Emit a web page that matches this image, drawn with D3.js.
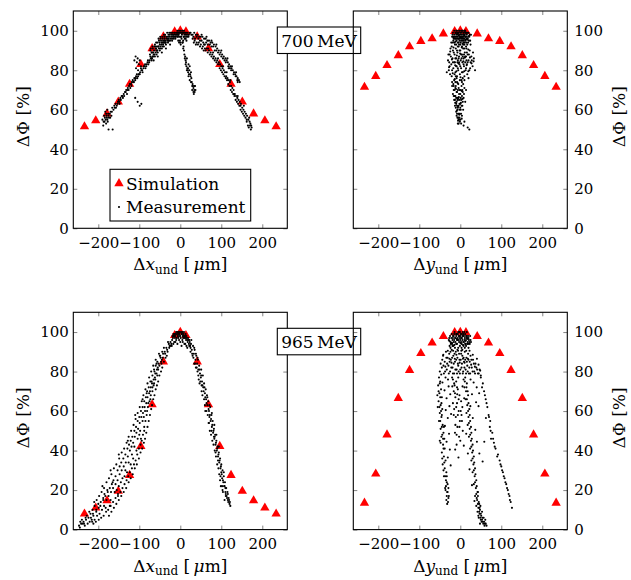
<!DOCTYPE html>
<html><head><meta charset="utf-8">
<script src="https://cdn.jsdelivr.net/npm/d3@7"></script>
<style>
body{margin:0;background:#fff}
svg text{font-family:"DejaVu Serif",serif;fill:#000}
</style>
</head><body>
<svg id="chart" width="631" height="580"></svg>
<script>
// ---------- data ----------
const xTicks = [-200,-100,0,100,200];
const yTicks = [0,20,40,60,80,100];
const energies = ["700 MeV","965 MeV"];

// simulation offsets [µm]
const simOffsets = [-233.75,-206.25,-178.75,-151.25,-123.75,-96.25,-68.75,-41.25,-13.75,0,13.75,41.25,68.75,96.25,123.75,151.25,178.75,206.25,233.75];
const sim700x = [51.5,54.5,58,64,73,83,91,97,99.5,100,99.5,97,91,83,73,64,58,54.5,51.5];
const sim700y = [71.5,77,82.5,87.5,92,94.7,96,98.5,99.7,100,99.7,98.5,96,94.7,92,87.5,82.5,77,71.5];
const sim965x = [8,11,14.7,19.5,27.5,42.2,63.3,85,98.3,100,98.3,85,63.3,42.2,27.5,19.5,14.7,11,8];
const sim965y = [13.5,28.2,48,66.5,80.7,89.2,94.5,97.8,99.8,100,99.8,97.8,94.5,89.2,80.7,66.5,48,28.2,13.5];

// measurement points [offset, ΔΦ]
const meas700x = [
[-190,55],[-188,52],[-186,57],[-185,54],[-183,59],[-182,55],[-181,53],[-180,57],[-179,56],[-178,60],[-177,54],[-176,58],[-175,50],[-174,56],[-172,58],[-170,59],[-168,57],[-166,61],[-165,50],[-163,60],[-160,61],[-158,63],[-155,62],[-152,64],[-150,65],[-148,63],[-146,66],[-143,67],[-140,66],[-138,68],[-135,69],[-132,70],[-130,68],[-128,71],[-125,72],[-122,71],[-120,73],[-118,74],[-115,74],[-112,76],[-110,75],[-108,77],[-105,76],[-102,78],[-100,78],[-98,79],[-95,80],[-92,79],[-90,81],[-87,82],[-85,81],[-82,83],[-80,84],[-78,83],[-75,85],[-72,86],[-70,85],[-68,87],[-65,88],[-62,87],[-60,89],[-58,90],[-55,89],[-52,91],[-50,90],[-48,92],[-45,91],[-42,93],[-40,92],[-38,94],[-35,93],[-32,95],[-30,94],[-28,96],[-25,95],[-22,97],[-20,96],[-18,97],[-15,98],[-12,97],[-10,98],[-8,99],[-5,98],[-3,97],
[-187,54],[-184,56],[-181,58],[-178,55],[-175,57],[-171,56],[-167,59],[-161,62],[-157,61],[-153,63],[-149,64],[-145,65],[-141,67],[-137,67],[-133,69],[-129,70],[-126,70],[-123,73],[-119,72],[-116,75],[-113,74],[-109,76],[-106,78],[-103,77],[-99,78],[-96,81],[-93,80],[-89,82],[-86,83],[-83,82],[-79,85],[-76,84],[-73,87],[-69,86],[-66,89],[-63,88],[-59,91],[-56,90],[-53,92],[-49,91],[-46,93],[-43,92],[-39,95],[-36,94],[-33,96],[-29,95],[-26,97],[-23,96],[-19,98],[-16,97],[-13,99],[-11,98],[-7,98],[-4,99],
[-74,88],[-72,91],[-70,89],[-68,92],[-66,87],[-64,90],[-62,93],[-60,91],[-58,88],[-56,94],[-54,92],[-52,95],[-50,93],[-48,96],[-46,94],[-44,97],[-42,95],[-40,98],[-38,96],[-36,94],[-34,97],[-32,99],[-30,97],[-28,95],[-26,98],[-24,99],[-22,98],[-20,95],[-18,99],[-16,96],[-14,99],[-12,96],[-65,85],[-55,87],[-45,89],[-35,91],[-25,93],[-61,92],[-47,95],[-70,86],
[-73,90],[-67,91],[-63,92],[-59,94],[-57,92],[-53,96],[-51,94],[-49,97],[-43,96],[-41,94],[-39,97],[-37,98],[-31,96],[-27,99],[-21,99],[-17,98],[-13,97],[-69,89],[-57,90],[-43,94],[-37,95],[-29,98],
[-112,85],[-109,87],[-106,84],[-104,86],[-101,83],[-99,85],[-96,82],[-108,81],[-103,80],
[-110,66],[-104,64],[-99,62],[-95,63],
[-8,97],[-6,99],[-4,98],[-2,99],[0,97],[2,99],[4,98],[6,99],[8,97],[10,98],[12,99],[14,97],[16,98],[18,99],[-1,95],[3,96],[7,95],[11,96],[-5,95],[15,95],[20,97],[1,93],[-3,94],
[-9,99],[-7,100],[-3,100],[-1,99],[1,100],[3,99],[5,100],[7,99],[9,100],[11,99],[13,98],[15,99],[17,97],[19,98],[21,98],[23,99],[-6,97],[2,97],[9,97],[13,96],[5,94],[0,94],
[6,94],[8,92],[9,90],[10,88],[12,87],[13,85],[14,84],[15,82],[17,81],[18,80],[19,79],[21,78],[22,80],[24,78],[25,77],[27,76],[28,74],[30,73],[31,72],[32,71],[34,70],[35,69],[33,68],[36,72],[29,70],[26,79],[20,83],[16,86],
[7,91],[11,86],[13,83],[16,80],[20,77],[23,75],[26,74],[29,72],[32,69],[34,72],[37,70],[23,82],[19,81],
[25,99],[30,98],[34,99],[38,98],[42,98],[46,97],[50,97],[54,97],[58,96],[62,96],[66,95],[70,95],[74,94],[78,94],[82,93],[86,92],[90,91],[94,90],[98,89],[102,88],[106,87],[110,86],[113,85],[116,84],[119,83],[122,82],[125,81],[128,80],[131,79],[134,78],[137,77],[140,76],[143,75],[145,74],[100,90],[88,93],[76,95],[64,97],[52,98],[115,86],[126,82],[136,79],[140,74],[118,81],
[27,98],[32,97],[36,96],[40,97],[44,96],[48,95],[52,95],[56,94],[60,93],[63,94],[67,93],[72,93],[76,92],[80,92],[84,90],[88,90],[92,89],[96,88],[100,87],[104,86],[108,85],[111,84],[117,82],[121,81],[124,80],[130,78],[135,77],[139,75],
[30,96],[35,95],[40,94],[45,94],[50,93],[55,92],[60,91],[65,91],[70,90],[74,89],[78,88],[82,87],[86,86],[90,85],[94,84],[97,83],[100,82],[103,81],[106,80],[109,79],[112,77],[115,76],[118,75],[121,74],[124,72],[127,71],[130,70],[133,68],[136,67],[139,66],[142,65],[145,64],[148,63],[151,61],[154,60],[157,59],[160,58],[163,57],[166,55],[169,54],[171,53],[173,52],[172,50],[168,56],[162,55],[155,62],[147,62],[140,67],[131,68],[122,75],[113,79],[104,82],[92,86],[80,89],[68,91],[58,93],
[33,94],[38,93],[43,93],[48,92],[53,91],[57,90],[62,90],[67,89],[72,88],[76,87],[80,86],[84,85],[88,84],[92,83],[96,81],[99,80],[102,79],[105,78],[108,77],[111,76],[114,75],[117,73],[120,72],[123,70],[126,69],[129,68],[132,67],[135,65],[138,64],[141,63],[144,62],[147,60],[150,59],[153,58],[156,57],[159,56],[162,54],[165,52],[167,51],[170,52],[174,51]
];

const meas700y = [
[-20,97],[-18,99],[-16,96],[-15,98],[-14,94],[-12,99],[-11,96],[-10,98],[-9,95],[-8,100],[-7,97],[-6,94],[-5,99],[-4,96],[-3,98],[-2,95],[-1,100],[0,97],[1,94],[2,99],[3,96],[4,98],[5,95],[6,100],[7,97],[8,94],[9,99],[10,96],[11,98],[12,95],[13,99],[14,97],[15,94],[16,98],[18,96],[20,99],[22,97],[24,95],[-13,93],[-3,93],[7,93],[17,93],[-8,96],[3,97],[12,100],[-17,95],[19,94],[26,98],[-22,94],
[-6,98],[-2,97],[0,99],[4,100],[8,98],[10,100],[14,99],[-10,100],[-4,94],[6,96],[11,94],[-12,97],[2,95],[16,96],
[-19,98],[-17,97],[-13,96],[-11,99],[-9,97],[-7,99],[-5,96],[-3,100],[-1,97],[1,98],[3,100],[5,97],[7,99],[9,96],[11,100],[13,97],[15,99],[17,96],[19,97],[21,95],[23,98],[-15,100],[-6,92],[4,92],[14,92],[-10,93],[0,93],[10,93],[-21,92],[25,93],[-18,94],[-1,96],[8,95],[18,99],[-14,97],[6,97],[-4,99],[12,97],
[-16.5,96.5],[-7.5,98.5],[1.5,96.5],[9.5,97.5],[17.5,95.5],[-11.5,94.5],[5.5,93.5],[21.5,97.5],[-3.5,97.5],[13.5,95.5],
[-30,85],[-28,80],[-26,88],[-24,91],[-22,83],[-21,77],[-19,86],[-18,90],[-17,81],[-15,75],[-14,88],[-13,84],[-12,79],[-11,91],[-10,86],[-9,82],[-8,77],[-7,89],[-6,85],[-5,80],[-4,92],[-3,87],[-2,83],[-1,78],[0,90],[1,85],[2,81],[3,75],[4,88],[5,84],[6,79],[7,91],[8,86],[9,82],[10,77],[11,89],[12,84],[13,80],[14,87],[15,91],[16,83],[17,78],[18,88],[20,85],[22,80],[23,90],[25,84],[27,87],[30,82],[33,86],[36,80],[-25,78],[-20,74],[20,76],[-33,79],
[-29,88],[-27,84],[-23,87],[-20,80],[-18,84],[-16,89],[-14,78],[-12,86],[-10,82],[-8,90],[-6,81],[-4,86],[-2,90],[0,82],[2,88],[4,79],[6,87],[8,83],[10,91],[12,87],[14,81],[16,89],[18,84],[21,88],[24,81],[28,85],[-15,84],[-3,84],[9,88],[-26,82],[31,89],[-11,77],[6,76],[-7,84],[3,86],[15,85],
[-24.5,89.5],[-20.5,85.5],[-16.5,91.5],[-12.5,82.5],[-8.5,87.5],[-4.5,83.5],[-0.5,88.5],[3.5,91.5],[7.5,84.5],[11.5,86.5],[15.5,82.5],[19.5,90.5],[23.5,86.5],[27.5,83.5],[32.5,84.5],[-27.5,81.5],[-18.5,78.5],[-9.5,79.5],[0.5,76.5],[9.5,79.5],[19.5,79.5],
[-16,72],[-12,74],[-9,76],[-5,73],[-1,75],[4,74],[7,73],[10,75],
[-13.5,75.5],[-6.5,73.5],[3.5,69.5],[-10.5,70.5],[-3.5,66.5],[5.5,65.5],[-12.5,63.5],[-5.5,61.5],[1.5,63.5],[-8.5,59.5],[-2.5,57.5],[-5.5,54.5],[3.5,55.5],
[-20,72],[-18,68],[-17,73],[-15,65],[-14,70],[-13,62],[-12,67],[-11,72],[-10,59],[-9,64],[-8,69],[-7,56],[-6,61],[-5,66],[-4,71],[-3,58],[-2,63],[-1,54],[0,68],[1,60],[2,65],[3,72],[4,57],[5,62],[6,69],[8,66],[10,71],[12,64],[-6,53],[-3,55],[-9,57],[-11,61],[-16,70],[14,70],[-8,74],[2,53],[8,52],[10,54],[18,51],[22,50],
[-7,60],[-5,58],[-4,55],[-8,62],[-2,60],[-6,66],[0,63],[-10,66],[-3,68],[1,70],
[-14,67],[-12,71],[-10,63],[-9,69],[-7,65],[-6,70],[-4,62],[-3,65],[-2,70],[-1,58],[0,61],[1,66],[2,58],[3,62],[4,67],[5,70],[6,64],[-5,56],[-8,58],[-2,56],[-4,53],[0,55],[7,60],[9,68],[-13,65],[-16,67]
];

const meas965x = [
[-20,96],[-18,97],[-16,98],[-14,99],[-12,98],[-10,100],[-8,99],[-6,98],[-4,100],[-2,99],[0,98],[2,100],[4,99],[6,98],[8,99],[10,97],[12,98],[14,96],[16,97],[18,95],[20,96],[-15,95],[-10,96],[-5,97],[0,95],[5,96],[10,94],[-22,94],[-25,93],[22,93],[-7,94],[3,93],[-13,97],[-3,96],[7,97],[13,99],[-17,94],[15,93],
[-19,98],[-17,99],[-15,98],[-11,99],[-9,97],[-7,100],[-5,99],[-3,98],[-1,100],[1,97],[3,99],[5,100],[7,98],[9,100],[11,98],[13,97],[15,98],[17,96],[19,97],[21,94],[23,95],[25,92],[-24,95],[-27,92],[-21,93],[-12,95],[6,95],[12,94],[17,92],[-28,94],
[-40,92],[-52,89],[-60,86],[-66,83],[-71,80],[-76,77],[-80,74],[-85,71],[-90,68],[-94,65],[-99,62],[-104,59],[-109,56],[-114,53],[-120,50],[-126,47],[-131,44],[-137,41],[-143,39],[-149,36],[-156,33],[-162,31],[-168,28],[-174,26],[-180,24],[-186,21],[-192,19],[-198,17],[-204,15],[-209,12],[-214,10],[-219,8],[-224,6],[-230,5],[-236,4],[-242,3],[-247,2],[-228,7],[-210,14],[-190,22],[-170,30],[-150,38],[-128,45],[-110,58],[-92,66],
[-34,92],[-42,89],[-48,87],[-53,84],[-57,81],[-61,79],[-65,76],[-69,74],[-72,72],[-76,69],[-80,67],[-83,64],[-87,62],[-91,59],[-95,57],[-99,54],[-103,51],[-107,49],[-111,47],[-115,44],[-119,42],[-123,40],[-128,37],[-133,34],[-138,32],[-143,30],[-148,28],[-153,25],[-158,23],[-164,21],[-169,19],[-175,17],[-180,15],[-186,12],[-191,10],[-197,8],[-203,7],[-209,5],[-215,4],
[-26,93],[-31,90],[-36,87],[-40,85],[-44,82],[-47,80],[-51,78],[-54,75],[-57,73],[-60,71],[-63,68],[-66,66],[-69,63],[-71,61],[-74,58],[-77,55],[-80,52],[-83,49],[-86,46],[-89,44],[-93,41],[-97,39],[-101,36],[-106,33],[-111,31],[-116,28],[-121,26],[-126,24],[-132,21],[-138,19],[-144,17],[-150,15],[-156,13],[-162,11],[-168,9],[-174,7],
[-45,86],[-55,82],[-62,77],[-68,72],[-74,70],[-78,64],[-86,60],[-92,55],[-98,50],[-104,46],[-112,42],[-118,38],[-126,34],[-134,30],[-141,26],[-150,22],[-160,19],[-170,15],[-182,11],[-195,12],[-205,10],[-218,6],[-235,3],[-245,1],[-58,84],[-63,80],[-70,75],[-82,69],[-89,57],[-100,48],[-115,36],[-130,29],[-145,24],[-155,20],[-165,24],[-178,20],[-188,16],[-200,13],[-222,9],[-240,5],[-50,88],[-38,90],[-30,95],
[-33,88],[-46,84],[-56,78],[-64,74],[-73,66],[-81,60],[-88,52],[-96,46],[-107,40],[-121,33],[-136,27],[-152,18],[-172,12],[-185,18],[-213,8],[-231,6],
[-32,91],[-37,89],[-43,87],[-47,85],[-51,83],[-54,81],[-58,79],[-61,76],[-65,73],[-68,70],[-72,68],[-75,65],[-79,62],[-82,58],[-85,55],[-88,50],[-91,48],[-94,45],[-97,43],[-101,41],[-105,38],[-109,35],[-113,33],[-118,31],[-123,29],[-127,27],[-131,25],[-136,23],[-141,21],[-146,19],[-152,17],[-158,16],[-164,14],[-170,12],[-176,10],[-181,9],[-187,7],[-193,6],[-199,5],[-206,4],[-212,3],
[-44,90],[-49,88],[-56,85],[-60,83],[-64,81],[-68,78],[-73,75],[-77,72],[-81,70],[-84,67],[-88,65],[-92,62],[-96,60],[-100,57],[-104,55],[-108,52],[-112,50],[-117,47],[-121,45],[-125,43],[-129,41],[-134,38],[-139,36],[-144,34],[-148,32],[-153,30],[-158,27],[-163,25],[-167,23],[-172,21],[-177,19],[-183,17],[-188,15],[-194,14],[-199,11],[-205,9],[-212,7],[-216,5],[-221,4],[-226,3],[-233,2],[-239,3],[-244,4],
[22,96],[26,94],[28,91],[31,93],[33,89],[35,91],[37,86],[39,88],[41,84],[43,86],[44,81],[46,83],[48,79],[50,77],[51,81],[53,75],[55,78],[56,72],[58,74],[60,69],[62,71],[63,66],[65,68],[66,63],[68,65],[70,60],[71,57],[73,62],[74,55],[76,58],[77,52],[79,55],[80,49],[82,51],[83,46],[85,48],[86,43],[88,45],[89,40],[91,42],[92,37],[94,39],[95,34],[97,36],[98,31],[100,33],[101,28],[103,30],[104,25],[106,27],[107,22],[109,24],[110,19],[112,21],[113,17],[115,19],[116,15],[118,16],[120,13],[122,12],[45,76],[52,70],[60,63],[67,58],[72,50],[78,45],[84,40],[90,33],[95,28],[99,22],[104,19],[108,15],[30,88],[38,82],[25,90],[34,84],
[42,80],[47,74],[54,68],[61,60],[69,54],[75,48],[81,43],[87,37],[93,31],[97,25],[102,22],[111,17],
[24,93],[27,96],[29,89],[32,87],[34,92],[36,84],[38,89],[40,82],[42,87],[44,78],[47,81],[49,75],[51,78],[54,73],[57,70],[59,72],[61,67],[64,64],[66,67],[69,61],[71,63],[72,58],[75,56],[77,59],[78,53],[81,50],[83,53],[84,47],[87,44],[88,48],[90,41],[93,38],[94,42],[96,35],[99,32],[100,29],[102,26],[105,24],[106,29],[108,22],[110,21],[111,18],[114,16],[116,18],[117,14],[119,15],[121,14],[52,73],[58,66],[64,60],[70,54],[76,50],[82,47],[86,39],[92,35],[98,27],[103,20]
];

const meas965y = [
[-28,96],[-25,98],[-23,94],[-21,99],[-19,96],[-17,93],[-16,98],[-14,100],[-12,95],[-11,97],[-9,99],[-8,94],[-6,97],[-5,100],[-3,95],[-2,98],[0,96],[1,99],[3,94],[4,97],[6,100],[7,95],[9,98],[10,96],[12,99],[13,94],[15,97],[16,100],[18,95],[19,98],[21,96],[23,94],[24,98],[-26,93],[-13,92],[-1,93],[11,92],[20,92],[-7,91],[5,91],[26,95],
[-18,98],[-10,99],[-4,98],[2,97],[8,99],[14,98],[-15,96],[-7,96],[5,98],[17,97],[-1,100],[10,100],
[-27,97],[-24,95],[-22,97],[-20,94],[-18,97],[-15,99],[-13,97],[-10,98],[-8,96],[-6,99],[-4,96],[-2,100],[0,98],[2,95],[4,99],[5,96],[7,98],[9,95],[11,97],[12,94],[14,96],[16,98],[17,94],[20,97],[22,95],[25,96],[-24,92],[-10,94],[3,92],[14,93],[-19,93],[8,93],[-5,92],[-16,95],[19,94],[-1,97],
[-20.5,94.5],[-8.5,96.5],[6.5,93.5],[18.5,96.5],[-26.5,95.5],[-14.5,93.5],[0.5,94.5],[12.5,95.5],
[-45,82],[-42,88],[-40,79],[-38,85],[-35,90],[-33,81],[-31,87],[-29,83],[-27,89],[-25,80],[-23,86],[-21,91],[-19,82],[-17,88],[-15,79],[-13,85],[-11,90],[-9,81],[-7,87],[-5,83],[-3,89],[-1,79],[1,86],[3,82],[5,88],[7,80],[9,85],[11,90],[13,81],[15,87],[17,83],[19,89],[21,79],[23,85],[25,88],[28,82],[31,86],[34,80],[37,84],[41,81],[45,79],[50,78],[-50,80],[-48,84],
[-44,86],[-41,83],[-37,80],[-34,87],[-32,84],[-28,79],[-26,85],[-24,90],[-22,82],[-20,87],[-18,79],[-16,84],[-14,89],[-12,81],[-10,86],[-8,79],[-6,84],[-4,80],[-2,86],[0,81],[2,89],[4,84],[6,79],[8,87],[10,82],[12,86],[14,79],[16,85],[18,80],[20,86],[22,82],[24,79],[27,86],[30,80],[33,84],[36,79],[39,82],[43,79],[47,81],[-36,77],[-30,76],[-20,77],[-5,77],[8,76],[25,76],
[-41.5,88.5],[-36.5,82.5],[-30.5,90.5],[-26.5,86.5],[-21.5,84.5],[-17.5,90.5],[-13.5,86.5],[-9.5,88.5],[-5.5,90.5],[-1.5,84.5],[2.5,90.5],[6.5,86.5],[10.5,84.5],[14.5,90.5],[18.5,86.5],[22.5,90.5],[26.5,83.5],[30.5,88.5],[35.5,82.5],[40.5,86.5],[44.5,83.5],[48.5,80.5],[-46.5,78.5],
[-43.5,74.5],[-38.5,70.5],[-33.5,66.5],[-28.5,72.5],[-24.5,68.5],[-35.5,60.5],[-30.5,56.5],[-26.5,62.5],[-22.5,58.5],[-37.5,52.5],[-27.5,48.5],[-33.5,44.5],[-25.5,40.5],[-30.5,36.5],[-23.5,32.5],
[-19.5,72.5],[-7.5,68.5],[5.5,72.5],[9.5,66.5],[28.5,68.5],[32.5,74.5],[38.5,64.5],[44.5,62.5],[24.5,62.5],[30.5,56.5],[36.5,50.5],[40.5,44.5],[46.5,38.5],[54.5,34.5],[58.5,44.5],[62.5,56.5],[-12.5,40.5],[-4.5,36.5],[8.5,42.5],[14.5,48.5],[18.5,38.5],[22.5,30.5],[28.5,22.5],[34.5,14.5],
[-52,77],[-49,75],[-54,73],[-47,71],[-51,69],[-45,67],[-53,65],[-48,63],[-44,61],[-50,59],[-46,57],[-52,55],[-43,53],[-48,51],[-41,49],[-46,47],[-50,45],[-42,43],[-38,41],[-45,39],[-40,37],[-36,35],[-43,33],[-38,31],[-34,29],[-40,27],[-35,25],[-31,23],[-37,21],[-32,19],[-28,17],[-34,15],[-30,14],[-47,60],[-55,62],[-39,46],[-33,27],[-36,20],[-29,21],
[-50,74],[-53,70],[-49,67],[-46,64],[-51,62],[-45,58],[-49,55],[-45,52],[-44,48],[-48,44],[-41,41],[-44,36],[-39,34],[-41,30],[-37,27],[-33,24],[-35,22],[-31,19],[-33,17],[-29,16],[-32,13],[-56,68],[-40,52],[-42,46],
[-18,76],[-14,73],[-10,75],[-16,70],[-6,71],[-12,67],[-2,68],[-8,64],[-15,61],[2,65],[-4,60],[-11,57],[5,62],[-1,55],[-7,52],[3,58],[-13,49],[-3,47],[6,50],[0,45],[-9,43],[-18,64],
[-15,74],[-8,72],[-13,69],[-4,66],[-10,62],[1,60],[-6,58],[-2,52],[-9,48],[4,55],[-16,58],[-12,53],
[12,77],[16,74],[10,72],[14,70],[19,68],[13,66],[17,63],[22,61],[15,59],[20,57],[24,55],[18,53],[23,51],[27,49],[21,47],[26,45],[30,43],[24,41],[29,39],[33,37],[27,35],[32,33],[36,31],[30,29],[35,27],[39,25],[33,23],[38,21],[42,19],[36,17],[41,15],[45,14],[39,12],[44,11],[48,10],[42,9],[47,8],[51,7],[45,6],[50,5],[54,6],[58,4],[62,3],[56,3],[64,2],[49,12],[53,9],[40,16],[46,13],[43,19],[52,4],
[11,75],[15,72],[18,70],[16,66],[20,64],[19,60],[23,58],[21,54],[26,52],[24,48],[28,46],[27,42],[31,40],[30,36],[34,34],[33,30],[37,28],[36,24],[40,22],[39,18],[43,17],[43,13],[47,11],[46,9],[50,8],[49,6],[53,5],[57,6],[55,4],[60,3],[59,2],[61,5],[48,3],[44,7],
[50,77],[55,74],[58,70],[62,66],[66,62],[69,58],[73,55],[72,52],[78,49],[75,46],[82,44],[86,41],[92,38],[96,35],[100,32],[104,29],[108,26],[112,23],[116,20],[120,17],[123,14],[126,11],[40,72],[46,69],
[53,72],[60,68],[64,64],[70,57],[74,50],[80,46],[84,42],[90,37],[98,33],[102,30],[106,27],[110,24],[114,21],[118,18],[121,15]
];

// ---------- layout ----------
const FONT = '"DejaVu Serif", serif';
const svg = d3.select("#chart");
const PW = 214, PH = 217.3;
const panels = [
  {left:73.3,  top:11,    sim:sim700x, meas:meas700x, axis:"x", ySide:"left",  energy:0, legend:true},
  {left:353.3, top:11,    sim:sim700y, meas:meas700y, axis:"y", ySide:"right"},
  {left:73.3,  top:312.3, sim:sim965x, meas:meas965x, axis:"x", ySide:"left",  energy:1},
  {left:353.3, top:312.3, sim:sim965y, meas:meas965y, axis:"y", ySide:"right"}
];
const fmt = d => d < 0 ? "\u2212" + Math.abs(d) : String(d);
const tri = d3.symbol().type(d3.symbolTriangle).size(38);

panels.forEach(p => {
  const x = d3.scaleLinear().domain([-261,261]).range([p.left, p.left+PW]);
  const y = d3.scaleLinear().domain([0,110]).range([p.top+PH, p.top]);
  const g = svg.append("g");

  const tickStyle = sel => {
    sel.attr("font-family", FONT);
    sel.select(".domain").remove();
    sel.selectAll(".tick line").attr("stroke","#777").attr("stroke-width",0.9);
    sel.selectAll("text").style("font-family", FONT).style("font-size","15px").attr("fill","#000");
  };
  g.append("g").attr("transform",`translate(0,${p.top+PH})`)
    .call(d3.axisBottom(x).tickValues(xTicks).tickSizeInner(-4).tickSizeOuter(0).tickPadding(9).tickFormat(fmt)).call(tickStyle);
  g.append("g").attr("transform",`translate(0,${p.top})`)
    .call(d3.axisTop(x).tickValues(xTicks).tickSizeInner(-4).tickSizeOuter(0).tickFormat("")).call(tickStyle);
  g.append("g").attr("transform",`translate(${p.left},0)`)
    .call(d3.axisLeft(y).tickValues(yTicks).tickSizeInner(-4).tickSizeOuter(0).tickPadding(4.5).tickFormat(p.ySide==="left"?fmt:"")).call(tickStyle);
  g.append("g").attr("transform",`translate(${p.left+PW},0)`)
    .call(d3.axisRight(y).tickValues(yTicks).tickSizeInner(-4).tickSizeOuter(0).tickPadding(7).tickFormat(p.ySide==="right"?fmt:"")).call(tickStyle);

  // simulation triangles
  g.append("g").selectAll("path").data(simOffsets.map((o,i)=>[o,p.sim[i]])).join("path")
    .attr("d", tri).attr("fill","#ff0000")
    .attr("transform", d=>`translate(${x(d[0])},${y(d[1])})`);
  // measurement dots
  g.append("g").selectAll("circle").data(p.meas).join("circle")
    .attr("cx", d=>x(d[0])).attr("cy", d=>y(d[1])).attr("r",1.05).attr("fill","#000");

  // frame
  g.append("rect").attr("x",p.left).attr("y",p.top).attr("width",PW).attr("height",PH)
    .attr("fill","none").attr("stroke","#000").attr("stroke-width",1.1);

  // x title
  const cx = p.left + PW/2, by = p.top + PH + 42;
  const t = g.append("text").attr("x",cx).attr("y",by).attr("text-anchor","middle").style("font-size","17px");
  t.append("tspan").text("\u0394");
  t.append("tspan").attr("font-style","italic").text(p.axis);
  t.append("tspan").attr("dy",3.5).style("font-size","12px").text("und");
  t.append("tspan").attr("dy",-3.5).text(" [\u2009");
  t.append("tspan").attr("font-style","italic").text("\u03bc");
  t.append("tspan").text("m]");

  // y title
  const yx = p.ySide==="left" ? 23 : 619;
  g.append("text").attr("transform",`translate(${yx},${p.top+PH/2-3}) rotate(-90)`)
    .attr("text-anchor","middle").attr("dy","0.35em").style("font-size","17px").text("\u0394\u03a6 [%]");

  // energy label
  if (p.energy !== undefined) {
    const bt = p.top + 16;
    svg.append("rect").attr("x",277.3).attr("y",bt).attr("width",83.4).attr("height",26.5)
      .attr("fill","#fff").attr("stroke","#000").attr("stroke-width",1.1);
    svg.append("text").attr("x",319).attr("y",bt+19.5).attr("text-anchor","middle")
      .style("font-size","17px").text(energies[p.energy].replace(" ","\u2009"));
  }

  // legend
  if (p.legend) {
    const lg = g.append("g");
    lg.append("rect").attr("x",110).attr("y",169.3).attr("width",140.7).attr("height",51.7)
      .attr("fill","#fff").attr("stroke","#000").attr("stroke-width",1.1);
    lg.append("path").attr("d",tri).attr("fill","#ff0000").attr("transform","translate(119,183.5)");
    lg.append("text").attr("x",126).attr("y",189.5).style("font-size","17px").text("Simulation");
    lg.append("circle").attr("cx",119).attr("cy",207).attr("r",1.05).attr("fill","#000");
    lg.append("text").attr("x",126).attr("y",213).style("font-size","17px").text("Measurement");
  }
});
</script>
</body></html>
